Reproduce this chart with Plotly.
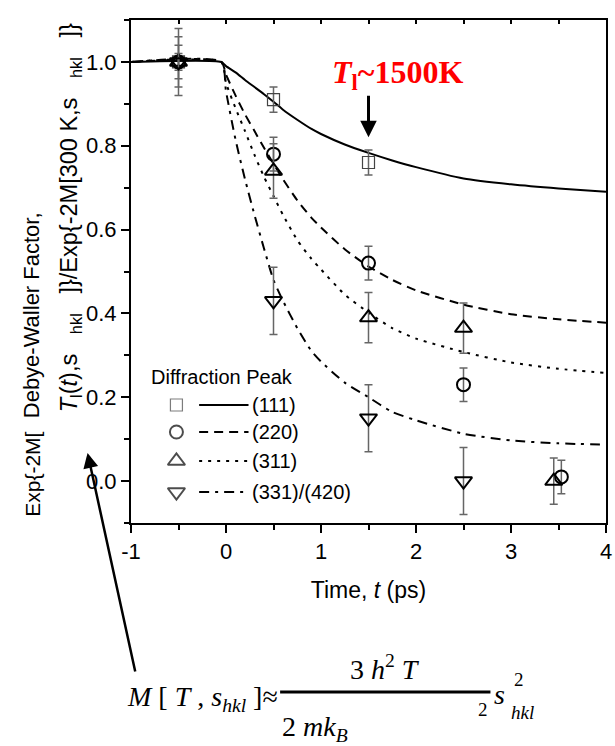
import plotly.graph_objects as go

# ---- measured Debye-Waller factors (normalised) ----
t_111 = [-0.5, 0.5, 1.5]
dw_111 = [1.0, 0.91, 0.76]
err_111 = [0.02, 0.03, 0.03]

t_220 = [-0.5, 0.5, 1.5, 2.5, 3.53]
dw_220 = [1.0, 0.78, 0.52, 0.23, 0.01]
err_220 = [0.04, 0.04, 0.04, 0.04, 0.04]

t_311 = [-0.5, 0.5, 1.5, 2.5, 3.45]
dw_311 = [1.0, 0.74, 0.39, 0.365, 0.0]
err_311 = [0.06, 0.065, 0.06, 0.06, 0.055]

t_331 = [-0.5, 0.5, 1.5, 2.5]
dw_331 = [1.0, 0.43, 0.15, 0.0]
err_331 = [0.08, 0.08, 0.08, 0.08]

# ---- model curves ----
fit_t = [-1.0, -0.05, 0.0, 0.1, 0.2, 0.3, 0.4, 0.5, 0.6, 0.75, 0.9, 1.0,
         1.25, 1.5, 1.75, 2.0, 2.5, 3.0, 3.5, 4.0]
fit_111 = [1.0, 1.0, 0.99, 0.975, 0.957, 0.94, 0.923, 0.905, 0.886, 0.862, 0.84,
           0.828, 0.803, 0.783, 0.765, 0.749, 0.722, 0.708, 0.698, 0.69]
fit_220 = [1.0, 1.0, 0.97, 0.92, 0.875, 0.835, 0.795, 0.757, 0.72, 0.67, 0.628,
           0.605, 0.553, 0.512, 0.48, 0.455, 0.421, 0.398, 0.386, 0.378]
fit_311 = [1.0, 1.0, 0.95, 0.89, 0.835, 0.778, 0.726, 0.68, 0.635, 0.575, 0.53,
           0.505, 0.445, 0.402, 0.365, 0.34, 0.308, 0.283, 0.268, 0.258]
fit_331 = [1.0, 1.0, 0.93, 0.815, 0.72, 0.635, 0.555, 0.48, 0.43, 0.365, 0.31,
           0.285, 0.235, 0.2, 0.165, 0.145, 0.113, 0.097, 0.09, 0.087]

peak_labels = ["(111)", "(220)", "(311)", "(331)/(420)"]

x_ticks = [-1, 0, 1, 2, 3, 4]
y_ticks = [0.0, 0.2, 0.4, 0.6, 0.8, 1.0]

SANS = "Liberation Sans, Arial, sans-serif"
SERIF = "Liberation Serif, Times New Roman, serif"

W, H = 615, 746
ML, MR, MT, MB = 131, 3, 20, 223
PW, PH = W - ML - MR, H - MT - MB


def px(xp):
    return (xp - ML) / PW


def py(yp):
    return (H - MB - yp) / PH


series = [
    dict(t=t_111, v=dw_111, e=err_111, fit=fit_111, sym="square-open", size=12,
         lw=1.2, mcol="#444", dash="solid"),
    dict(t=t_220, v=dw_220, e=err_220, fit=fit_220, sym="circle-open", size=13,
         lw=2, mcol="black", dash="9px,6px"),
    dict(t=t_311, v=dw_311, e=err_311, fit=fit_311, sym="triangle-up-open", size=15,
         lw=2, mcol="black", dash="3px,6px"),
    dict(t=t_331, v=dw_331, e=err_331, fit=fit_331, sym="triangle-down-open", size=15,
         lw=2, mcol="black", dash="10px,6px,3px,6px"),
]

fig = go.Figure()

for s in series:
    fig.add_trace(go.Scatter(
        x=fit_t, y=s["fit"], mode="lines",
        line=dict(color="black", width=2, dash=s["dash"], shape="spline", smoothing=0.6),
        hoverinfo="skip", showlegend=False))

for s in series:
    fig.add_trace(go.Scatter(
        x=s["t"], y=s["v"], mode="markers",
        marker=dict(symbol=s["sym"], size=s["size"], color=s["mcol"],
                    line=dict(width=s["lw"], color=s["mcol"])),
        error_y=dict(type="data", array=s["e"], color="#666666", thickness=1.5, width=4),
        showlegend=False))

# top axis carrying the small mirrored ticks
fig.add_trace(go.Scatter(x=[-1], y=[-0.1], xaxis="x2", mode="markers",
                         marker=dict(opacity=0), hoverinfo="skip", showlegend=False))

# ---- hand-drawn key ----
key_rows = [405, 432, 461, 492]
key_marker_x = 177
key_line = (200, 250)
key_label_x = 252
fig.add_trace(go.Scatter(
    x=[px(key_marker_x)] * 4, y=[py(r) for r in key_rows], xaxis="x3", yaxis="y3",
    mode="markers",
    marker=dict(symbol=[s["sym"] for s in series], size=[s["size"] for s in series],
                color=[s["mcol"] for s in series],
                line=dict(width=[s["lw"] for s in series], color=[s["mcol"] for s in series])),
    hoverinfo="skip", showlegend=False))

shapes = []
annotations = []
for s, r, lab in zip(series, key_rows, peak_labels):
    shapes.append(dict(type="line", xref="paper", yref="paper",
                       x0=px(key_line[0]), x1=px(key_line[1]), y0=py(r), y1=py(r),
                       line=dict(color="black", width=2, dash=s["dash"])))
    annotations.append(dict(text=lab, xref="paper", yref="paper", x=px(key_label_x),
                            y=py(r), xanchor="left", yanchor="middle", showarrow=False,
                            font=dict(family=SANS, size=20, color="black")))
annotations.append(dict(text="Diffraction Peak", xref="paper", yref="paper", x=px(149),
                        y=py(377), xanchor="left", yanchor="middle", showarrow=False,
                        font=dict(family=SANS, size=20, color="black")))

# ---- y-axis title, laid out in two rotated columns ----
annotations += [
    dict(text="Debye-Waller Factor,", xref="paper", yref="paper", x=px(31), y=py(420),
         textangle=-90, showarrow=False, xanchor="center", yanchor="bottom",
         font=dict(family=SANS, size=22, color="black")),
    dict(text="Exp{-2M[", xref="paper", yref="paper", x=px(31), y=py(519),
         textangle=-90, showarrow=False, xanchor="center", yanchor="bottom",
         font=dict(family=SANS, size=21, color="black")),
    dict(text="<i>T</i><sub>l</sub>(<i>t</i>),s   <sub>hkl</sub>   ]}/Exp{-2M[300 K,s   <sub>hkl</sub>   ]}",
         xref="paper", yref="paper", x=px(70), y=py(414),
         textangle=-90, showarrow=False, xanchor="center", yanchor="bottom",
         font=dict(family=SANS, size=23.5, color="black")),
]

# ---- highlighted lattice temperature ----
annotations += [
    dict(text="<b><i>T</i><sub>l</sub>~1500K</b>", x=1.8, y=0.97, showarrow=False,
         xanchor="center", yanchor="middle",
         font=dict(family=SERIF, size=32, color="#ff0000")),
    dict(text="", x=1.5, y=0.82, ax=0, ay=-43, showarrow=True, arrowhead=2,
         arrowsize=1.1, arrowwidth=3, arrowcolor="black", standoff=0),
]

# ---- expression for M and its pointer ----
annotations.append(dict(text="", xref="paper", yref="paper", x=px(87), y=py(453),
                        ax=48, ay=220, showarrow=True, arrowhead=2, arrowsize=1.2,
                        arrowwidth=2.5, arrowcolor="black", standoff=0))
formula_font = dict(family=SERIF, size=28, color="black")
small_font = dict(family=SERIF, size=19, color="black")
annotations += [
    dict(text="<i>M</i> [ <i>T</i> , <i>s</i><sub><i>hkl</i></sub> ]≈", xref="paper",
         yref="paper", x=px(282), y=py(698), xanchor="right", yanchor="middle",
         showarrow=False, font=formula_font),
    dict(text="3 <i>h</i><sup>2</sup> <i>T</i>", xref="paper", yref="paper", x=px(388),
         y=py(667), xanchor="center", yanchor="middle", showarrow=False, font=formula_font),
    dict(text="2 <i>mk</i><sub><i>B</i></sub>", xref="paper", yref="paper", x=px(282),
         y=py(728), xanchor="left", yanchor="middle", showarrow=False, font=formula_font),
    dict(text="2", xref="paper", yref="paper", x=px(487), y=py(709), xanchor="center",
         yanchor="middle", showarrow=False, font=small_font),
    dict(text="<i>s</i>", xref="paper", yref="paper", x=px(497), y=py(694),
         xanchor="left", yanchor="middle", showarrow=False, font=formula_font),
    dict(text="2", xref="paper", yref="paper", x=px(517), y=py(679), xanchor="left",
         yanchor="middle", showarrow=False, font=small_font),
    dict(text="<i>hkl</i>", xref="paper", yref="paper", x=px(514), y=py(712),
         xanchor="left", yanchor="middle", showarrow=False, font=small_font),
]
shapes.append(dict(type="line", xref="paper", yref="paper", x0=px(282), x1=px(495),
                   y0=py(692), y1=py(692), line=dict(color="black", width=3)))

axis_common = dict(showline=True, linecolor="black", linewidth=2, showgrid=False,
                   zeroline=False, ticks="outside", ticklen=8, tickwidth=2,
                   tickcolor="black", ticklabeloverflow="allow",
                   tickfont=dict(family=SANS, size=22, color="black"))

fig.update_layout(
    width=W, height=H,
    margin=dict(l=ML, r=MR, t=MT, b=MB),
    paper_bgcolor="white", plot_bgcolor="white",
    showlegend=False,
    xaxis=dict(**axis_common, range=[-1, 4], tickvals=x_ticks,
               ticktext=[str(v) for v in x_ticks], mirror=True,
               minor=dict(dtick=0.5, tick0=-1, ticks="outside", ticklen=5, tickwidth=2,
                          tickcolor="black"),
               title=dict(text="Time, <i>t</i> (ps)", standoff=18,
                          font=dict(family=SANS, size=23, color="black"))),
    xaxis2=dict(overlaying="x", side="top", range=[-1, 4], dtick=0.5, tick0=-1,
                ticks="inside", ticklen=4, tickwidth=1.5, tickcolor="black",
                showticklabels=False, showgrid=False, zeroline=False, showline=False),
    yaxis=dict(**axis_common, range=[-0.1, 1.1], tickvals=y_ticks,
               ticktext=[f"{v:.1f}" for v in y_ticks], mirror=True,
               minor=dict(dtick=0.1, tick0=-0.1, ticks="outside", ticklen=5, tickwidth=2,
                          tickcolor="black")),
    xaxis3=dict(overlaying="x", range=[0, 1], visible=False),
    yaxis3=dict(overlaying="y", range=[0, 1], visible=False),
    shapes=shapes,
    annotations=annotations,
)

fig.write_html("out.html")
